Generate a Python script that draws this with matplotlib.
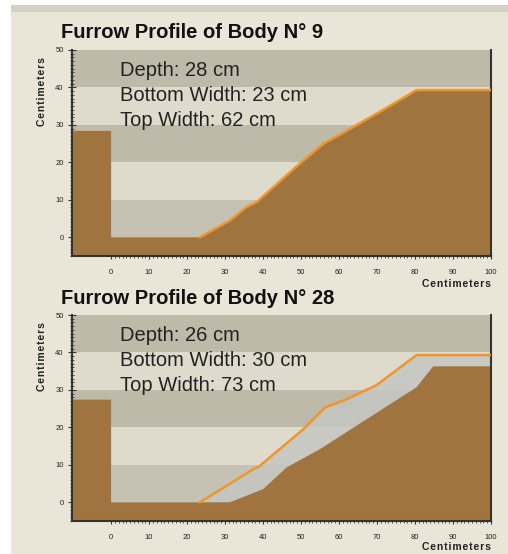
import matplotlib
matplotlib.use("Agg")
import matplotlib.pyplot as plt
import numpy as np
from matplotlib.patches import Rectangle

plt.rcParams['font.family'] = ['Liberation Sans', 'DejaVu Sans']

# ---- data ----
titles = ["Furrow Profile of Body N° 9", "Furrow Profile of Body N° 28"]
depths = [28, 26]
bottom_widths = [23, 30]
top_widths = [62, 73]
left_block_heights = [28.4, 27.4]

# original surface line (orange) per panel
line1_x = [23.4, 31.3, 35.7, 38.3, 49.7, 55.9, 61.1, 69.9, 80.4, 100]
line1_y = [0, 4.5, 8.1, 9.4, 19.7, 25.0, 27.9, 33.0, 39.3, 39.3]
line2_x = [23.4, 30.4, 37.5, 39.0, 50.6, 56.3, 62.0, 69.9, 80.4, 100]
line2_y = [0, 4.4, 8.9, 9.6, 19.5, 25.3, 27.5, 31.3, 39.3, 39.3]

# soil (brown) profile per panel
soil1_x = [0, 23.4, 31.3, 35.7, 38.3, 49.7, 55.9, 61.1, 69.9, 80.4, 100]
soil1_y = [0, 0, 4.5, 8.1, 9.4, 19.7, 25.0, 27.9, 33.0, 39.3, 39.3]
soil2_x = [0, 31.3, 40.0, 46.2, 55.0, 67.3, 80.4, 84.8, 100]
soil2_y = [0, 0, 3.5, 9.3, 14.2, 22.2, 30.7, 36.3, 36.3]

x_ticks = [0, 10, 20, 30, 40, 50, 60, 70, 80, 90, 100]
y_ticks = [0, 10, 20, 30, 40, 50]
axis_label = "Centimeters"

# ---- style ----
W, H = 508, 554
fig = plt.figure(figsize=(W / 100, H / 100), dpi=100, facecolor='white')

cream = '#e9e5d7'
band_dark = '#bdbaa9'
band_light = '#dedbcc'
band_low = '#c5c2b3'
brown = '#a0743f'
orange = '#f0952c'
haze = '#c3c6c1'

spaced_label = '\u200a'.join(axis_label)

# background panel
fig.patches.append(Rectangle((11 / W, 0), 1 - 11 / W, 1 - 5 / H, transform=fig.transFigure,
                             facecolor=cream, edgecolor='none', zorder=-10))
fig.patches.append(Rectangle((11 / W, 1 - 12 / H), 1 - 11 / W, 7 / H, transform=fig.transFigure,
                             facecolor='#d3d0c4', edgecolor='none', zorder=-9))

panels = [
    dict(top=50, bottom=256, title_y=32, xlab_y=284, lines=(line1_x, line1_y), soil=(soil1_x, soil1_y)),
    dict(top=315, bottom=521, title_y=298, xlab_y=547, lines=(line2_x, line2_y), soil=(soil2_x, soil2_y)),
]

x0, x1, y0, y1 = -10.3, 100, -5, 50
left_px, right_px = 72, 491
for i, p in enumerate(panels):
    ax = fig.add_axes([left_px / W, 1 - p['bottom'] / H, (right_px - left_px) / W,
                       (p['bottom'] - p['top']) / H])
    ax.set_xlim(x0, x1)
    ax.set_ylim(y0, y1)
    ax.set_facecolor(band_light)
    # bands
    ax.axhspan(40, 50, color=band_dark, zorder=0, lw=0)
    ax.axhspan(30, 40, color=band_light, zorder=0, lw=0)
    ax.axhspan(20, 30, color=band_dark, zorder=0, lw=0)
    ax.axhspan(10, 20, color=band_light, zorder=0, lw=0)
    ax.axhspan(0, 10, color=band_low, zorder=0, lw=0)
    # soil
    lx, ly = p['lines']
    sx, sy = p['soil']
    gx = np.union1d(lx, sx)
    l_int = np.interp(gx, lx, ly, left=0)
    s_int = np.interp(gx, sx, sy)
    ax.fill_between(gx, s_int, np.maximum(l_int, s_int), color=haze, alpha=0.85, lw=0, zorder=1)
    h = left_block_heights[i]
    px = [x0, x0, 0] + list(sx) + [x1]
    py = [y0, h, h] + list(sy) + [y0]
    ax.fill(px, py, color=brown, lw=0, zorder=2)
    ax.plot(lx, ly, color=orange, lw=1.8, zorder=3, solid_joinstyle='round')

    # annotations
    ax.text(2.3, 44.5, f"Depth: {depths[i]} cm", fontsize=14.5, color='#222222', va='center', zorder=4)
    ax.text(2.3, 37.8, f"Bottom Width: {bottom_widths[i]} cm", fontsize=14.5, color='#222222', va='center', zorder=4)
    ax.text(2.3, 31.2, f"Top Width: {top_widths[i]} cm", fontsize=14.5, color='#222222', va='center', zorder=4)

    # ticks
    ax.set_xticks(x_ticks)
    ax.set_xticklabels([str(t) for t in x_ticks], fontsize=5.5, color='#222222')
    ax.set_xticks(np.arange(0, 101, 1), minor=True)
    ax.set_yticks(y_ticks)
    ax.set_yticklabels([str(t) for t in y_ticks], fontsize=5.5, color='#222222')
    ax.set_yticks(np.arange(-5, 51, 1), minor=True)
    ax.tick_params(axis='x', which='major', direction='inout', length=5, width=0.8, pad=7, color='#333333')
    ax.tick_params(axis='x', which='minor', direction='inout', length=3, width=0.6, color='#333333')
    ax.tick_params(axis='y', which='major', direction='inout', length=6, width=0.8, pad=3, color='#333333')
    ax.tick_params(axis='y', which='minor', direction='inout', length=3, width=0.6, color='#333333')
    ax.spines['top'].set_visible(False)
    for s in ['left', 'bottom', 'right']:
        ax.spines[s].set_color('#333333')
        ax.spines[s].set_linewidth(1.5)

    # title and labels
    fig.text(61 / W, 1 - p['title_y'] / H, titles[i], fontsize=14.5, fontweight='bold',
             color='#111111', va='center', ha='left')
    fig.text(42 / W, 1 - (p['top'] + 42) / H, spaced_label, fontsize=7.5, fontweight='bold',
             rotation=90, va='center', ha='center', color='#222222')
    fig.text(491 / W, 1 - p['xlab_y'] / H, spaced_label, fontsize=7.5, fontweight='bold',
             va='center', ha='right', color='#222222')

fig.savefig('out.png', dpi=100, facecolor=fig.get_facecolor())
